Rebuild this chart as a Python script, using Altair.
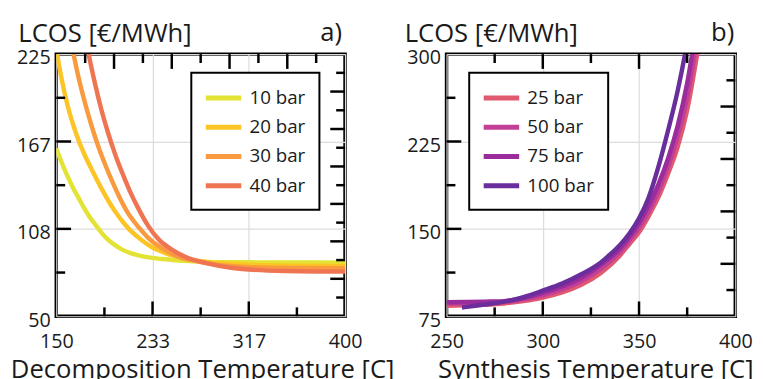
import altair as alt
import pandas as pd

FONT = "Open Sans"
TXT = "#1a1a1a"
W, H = 293, 266

# ---------------- panel a) decomposition ----------------
a_series = ["10 bar", "20 bar", "30 bar", "40 bar"]
a_colors = ["#e3e336", "#fcc424", "#f99a3e", "#ef7552"]
a_T = {
    "10 bar": [150, 155, 160, 165, 170, 175, 180, 185, 190, 195, 200, 207, 215, 225, 233, 245, 260, 280, 300, 317, 350, 400],
    "20 bar": [150, 155, 160, 165, 170, 175, 182, 190, 200, 212, 222, 232, 245, 260, 280, 300, 317, 350, 400],
    "30 bar": [160, 165, 170, 175, 181, 187, 193, 199, 205, 212, 222, 230, 241, 255, 270, 280, 300, 317, 350, 400],
    "40 bar": [172, 178, 183, 189, 195, 201, 208, 214, 221, 229, 239, 249, 262, 280, 300, 317, 350, 400],
}
a_Y = {
    "10 bar": [162, 152, 143, 135, 128, 121, 115, 110, 105, 101, 98, 94.5, 92, 90, 89, 88, 87, 86.3, 86.1, 86, 85.9, 85.8],
    "20 bar": [228, 207, 190, 177, 166, 157, 146, 134, 121, 109, 102, 96.5, 92, 88.8, 86.3, 85, 84.3, 83.8, 83.5],
    "30 bar": [248, 225, 207, 192, 176, 162, 150, 139, 129, 119, 108.8, 102, 95.6, 90, 87, 85.5, 83.5, 82.8, 82.2, 82],
    "40 bar": [250, 225, 207, 188, 172, 158, 144, 133, 122, 111, 101, 95, 89.5, 85.5, 82.5, 81.2, 80.2, 79.8],
}
a_xdomain = [150, 400]
a_ydomain = [50, 225]
a_xlabels = [150, 233.33, 316.67, 400]
a_ylabels = [50, 108.33, 166.67, 225]
a_bottom_long = [233.33, 316.67]
a_bottom_short = [191.67, 275, 358.33]
a_top_long = [200, 250, 300, 350]
a_top_short = [175, 225, 275, 325, 375]
a_left_long = [108.33, 166.67]
a_left_short = [79.17, 137.5, 195.83]
a_right_long = [75, 100, 125, 150, 175, 200]
a_right_short = [62.5, 87.5, 112.5, 137.5, 162.5, 187.5, 212.5]

# ---------------- panel b) synthesis ----------------
b_series = ["25 bar", "50 bar", "75 bar", "100 bar"]
b_colors = ["#e05a6f", "#c23f97", "#9b2c9c", "#6a2d9c"]
b_T = {
    "25 bar": [250, 260, 270, 280, 290, 300, 310, 320, 330, 340, 345, 350, 355, 360, 365, 370, 375, 380, 383],
    "50 bar": [250, 260, 270, 280, 290, 300, 310, 320, 330, 340, 345, 350, 355, 360, 365, 370, 375, 380, 383],
    "75 bar": [250, 260, 270, 280, 290, 300, 310, 320, 330, 340, 345, 350, 355, 360, 365, 370, 375, 380],
    "100 bar": [258, 265, 270, 280, 290, 300, 310, 320, 330, 335, 340, 345, 350, 355, 360, 365, 370, 375, 378],
}
b_Y = {
    "25 bar": [84, 84.5, 85, 86, 88, 91, 95.5, 102, 112, 127, 137, 147, 161, 177, 197, 220, 252, 298, 330],
    "50 bar": [86, 86.2, 86.5, 87.2, 89.5, 93, 98, 105, 115.5, 130, 140, 151, 165, 182, 203, 229, 263, 310, 340],
    "75 bar": [87, 87.2, 87.5, 88, 90.5, 95, 100.5, 108, 119, 133, 143, 155, 170, 188, 210, 238, 275, 325],
    "100 bar": [82.5, 84, 85, 87.5, 91.5, 97, 103, 111, 121, 128, 136, 146, 159, 177, 203, 234, 268, 310, 340],
}
b_xdomain = [250, 400]
b_ydomain = [75, 300]
b_xlabels = [250, 300, 350, 400]
b_ylabels = [75, 150, 225, 300]
b_bottom_long = [300, 350]
b_bottom_short = [275, 325, 375]
b_top_long = [300, 350]
b_top_short = [275, 325, 375]
b_left_long = [150, 225]
b_left_short = [112.5, 187.5, 262.5]
b_right_long = [120, 165, 210, 255]
b_right_short = [97.5, 142.5, 187.5, 232.5, 277.5]

LONG, SHORT = 15, 9


def panel(series, colors, T, Y, xdom, ydom, xlab, ylab, ticks, xtitle, tag,
          legend_x, ytitle_x, tag_x, xtitle_x):
    rows = []
    for s in series:
        for t, v in zip(T[s], Y[s]):
            rows.append({"T": t, "LCOS": v, "series": s})
    df = pd.DataFrame(rows)

    xaxis = alt.Axis(values=xlab, format=".0f", title=xtitle, grid=True,
                     gridColor="#dcdcdc", gridWidth=1.2, ticks=False, domain=False,
                     labelFontSize=20, labelFlush=False, labelPadding=16,
                     titleFontSize=26, titleFontWeight="normal", titlePadding=5,
                     titleX=xtitle_x,
                     labelFont=FONT, titleFont=FONT, labelColor=TXT, titleColor=TXT)
    yaxis = alt.Axis(values=ylab, format=".0f", title="LCOS [€/MWh]", grid=True,
                     gridColor="#dcdcdc", gridWidth=1.2, ticks=False, domain=False,
                     labelFontSize=20, labelPadding=6, labelOffset=4,
                     titleFontSize=26, titleFontWeight="normal", titleAngle=0,
                     titleAlign="left", titleBaseline="alphabetic",
                     titleX=ytitle_x, titleY=-13,
                     labelFont=FONT, titleFont=FONT, labelColor=TXT, titleColor=TXT)

    def X(f):
        return alt.X(f, type="quantitative", scale=alt.Scale(domain=xdom, nice=False, zero=False), axis=xaxis)

    def Yc(f):
        return alt.Y(f, type="quantitative", scale=alt.Scale(domain=ydom, nice=False, zero=False), axis=yaxis)

    lines = alt.Chart(df).mark_line(strokeWidth=4.5, clip=True, interpolate="monotone").encode(
        x=X("T"), y=Yc("LCOS"),
        color=alt.Color("series:N", scale=alt.Scale(domain=series, range=colors),
                        sort=series,
                        legend=alt.Legend(orient="none", legendX=legend_x, legendY=19,
                                          title=None, fillColor="white", strokeColor="black",
                                          padding=14, rowPadding=7.7,
                                          symbolType="M-1.2,0H2.8",
                                          symbolSize=324, symbolStrokeWidth=5,
                                          labelFontSize=19, labelOffset=22, labelFont=FONT,
                                          labelColor=TXT)),
    )

    layers = [lines]
    (bl, bs, tl, ts, ll, ls, rl, rs) = ticks
    for vals, side, ln in [(bl, "b", LONG), (bs, "b", SHORT), (tl, "t", LONG), (ts, "t", SHORT),
                           (ll, "l", LONG), (ls, "l", SHORT), (rl, "r", LONG), (rs, "r", SHORT)]:
        tdf = pd.DataFrame({"v": vals})
        base = alt.Chart(tdf).mark_rule(color="black", strokeWidth=2.5)
        if side == "b":
            layers.append(base.encode(x=X("v"), y=alt.value(H), y2=alt.value(H - ln)))
        elif side == "t":
            layers.append(base.encode(x=X("v"), y=alt.value(0), y2=alt.value(ln)))
        elif side == "l":
            layers.append(base.encode(y=Yc("v"), x=alt.value(0), x2=alt.value(ln)))
        else:
            layers.append(base.encode(y=Yc("v"), x=alt.value(W), x2=alt.value(W - ln)))

    tagc = alt.Chart(pd.DataFrame({"t": [tag]})).mark_text(
        align="right", baseline="alphabetic", fontSize=26, font=FONT, color=TXT
    ).encode(text="t:N", x=alt.value(tag_x), y=alt.value(-13))
    layers.append(tagc)

    # invisible layout anchor fixing the top-left corner of the panel's extent
    anchor = alt.Chart(pd.DataFrame({"t": [0]})).mark_rule(strokeWidth=1, opacity=0).encode(
        x=alt.value(-46.5), x2=alt.value(-46), y=alt.value(-41.5), y2=alt.value(-41)
    )
    layers.append(anchor)
    return alt.layer(*layers).properties(width=W, height=H)


pa = panel(a_series, a_colors, a_T, a_Y, a_xdomain, a_ydomain, a_xlabels, a_ylabels,
           (a_bottom_long, a_bottom_short, a_top_long, a_top_short,
            a_left_long, a_left_short, a_right_long, a_right_short),
           "Decomposition Temperature [C]", "a)", 137, -39, 290, 148)
pb = panel(b_series, b_colors, b_T, b_Y, b_xdomain, b_ydomain, b_xlabels, b_ylabels,
           (b_bottom_long, b_bottom_short, b_top_long, b_top_short,
            b_left_long, b_left_short, b_right_long, b_right_short),
           "Synthesis Temperature [C]", "b)", 23, -43, 292, 151)

chart = alt.hconcat(pa, pb, spacing=103, bounds="flush").resolve_scale(
    color="independent"
).resolve_legend(color="independent").properties(
    padding={"left": 0, "top": 0, "right": 0, "bottom": 0}
).configure_view(stroke="black", strokeWidth=3.5).configure_legend(strokeWidth=2)

chart.save("out.html", embed_options={"renderer": "svg", "actions": False})
